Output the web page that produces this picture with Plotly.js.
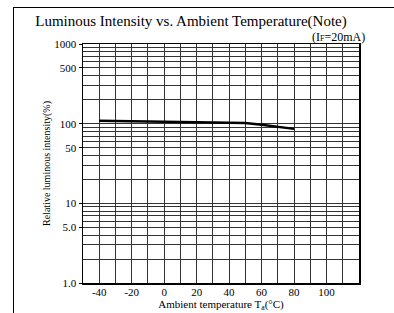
<!DOCTYPE html>
<html><head><meta charset="utf-8">
<script src="https://cdn.plot.ly/plotly-3.0.1.min.js"></script>
<style>html,body{margin:0;padding:0;background:#fff}
#wrap{position:relative;width:394px;height:313px;overflow:hidden}
#chart{position:absolute;left:0;top:0;width:394px;height:313px}
#frame{position:absolute;left:13px;top:7px;width:400px;height:400px;border-top:1.5px solid #000;border-left:1.5px solid #000;pointer-events:none}
</style>
</head><body><div id="wrap"><div id="chart"></div><div id="frame"></div></div>
<script>
const temperature = [-40, -20, 0, 20, 40, 50, 60, 70, 80];
const relIntensity = [109, 107, 105, 104, 103, 102, 97, 92, 86];
const xTickVals = [-40, -20, 0, 20, 40, 60, 80, 100];
const xTickText = ["-40", "-20", "0", "20", "40", "60", "80", "100"];
const yTickVals = [1, 5, 10, 50, 100, 500, 1000];
const yTickText = ["1.0", "5.0", "10", "50", "100", "500", "1000"];

const serif = "Liberation Serif, Times New Roman, serif";
const W = 394, H = 313, L = 83, R = 35, T = 44, B = 30;
const pw = W - L - R, ph = H - T - B;
const px = v => (v - L) / pw;
const py = v => (H - B - v) / ph;

const trace = {
  x: temperature, y: relIntensity, type: "scatter", mode: "lines",
  line: {color: "#000", width: 2.5}, showlegend: false, hoverinfo: "skip"
};

const layout = {
  width: W, height: H,
  margin: {l: L, r: R, t: T, b: B, pad: 0},
  paper_bgcolor: "rgba(0,0,0,0)", plot_bgcolor: "#fff",
  font: {family: serif, color: "#000", size: 11},
  title: {text: "Luminous Intensity vs. Ambient Temperature(Note)",
          font: {family: serif, size: 15, color: "#000"},
          x: 191 / W, xanchor: "center", xref: "container",
          y: 1 - 21 / H, yanchor: "middle", yref: "container"},
  xaxis: {
    range: [-50, 120], tickvals: xTickVals, ticktext: xTickText,
    showgrid: true, gridcolor: "#333", gridwidth: 1,
    minor: {dtick: 10, tick0: 0, showgrid: true, gridcolor: "#333", gridwidth: 1},
    showline: true, linecolor: "#000", linewidth: 1.5, mirror: true,
    ticks: "", zeroline: false, ticklabelstandoff: -2,
    tickfont: {family: serif, size: 11, color: "#000"},
    title: {text: "Ambient temperature T<sub>a</sub>(°C)", font: {family: serif, size: 11, color: "#000"}, standoff: 3}
  },
  yaxis: {
    type: "log", range: [0, 3], tickvals: yTickVals, ticktext: yTickText,
    showgrid: true, gridcolor: "#333", gridwidth: 1,
    minor: {dtick: "D1", showgrid: true, gridcolor: "#333", gridwidth: 1},
    showline: true, linecolor: "#000", linewidth: 1.5, mirror: true,
    ticks: "outside", ticklen: 3, tickcolor: "#000", zeroline: false,
    tickfont: {family: serif, size: 11, color: "#000"},
    title: {text: "Relative luminous intensity(%)", font: {family: serif, size: 10, color: "#000"}, standoff: 2}
  },
  annotations: [{
    text: "(I<span style='font-size:8px'>F</span>=20mA)", xref: "paper", yref: "paper",
    x: px(367), y: py(37), xanchor: "right", yanchor: "middle", showarrow: false,
    font: {family: serif, size: 12, color: "#000"}
  }]
};

Plotly.newPlot("chart", [trace], layout, {staticPlot: true, displayModeBar: false});
</script></body></html>
